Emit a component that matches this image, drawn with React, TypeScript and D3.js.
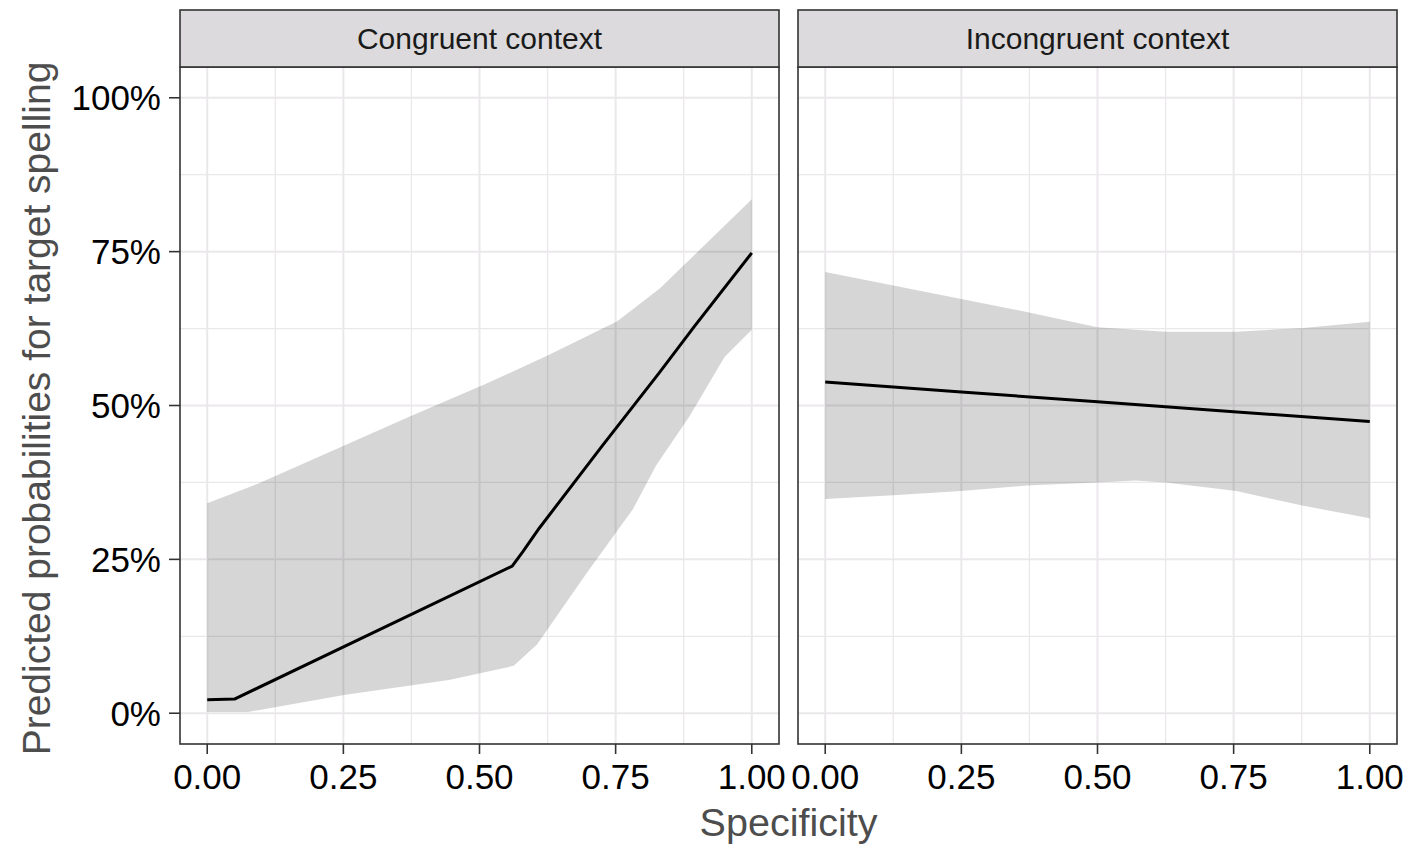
import React from "react";
import * as d3 from "d3";

const panels = ["Congruent context", "Incongruent context"];
const xTicks = [0, 0.25, 0.5, 0.75, 1.0];
const xMinor = [0.125, 0.375, 0.625, 0.875];
const yTicks = [0, 0.25, 0.5, 0.75, 1.0];
const yMinor = [0.125, 0.375, 0.625, 0.875];

// Congruent context
const congX = [0, 0.05, 0.56, 0.58, 0.61, 0.725, 0.83, 0.895, 1.0];
const congFit = [2.2, 2.3, 23.9, 26.3, 30.1, 43.4, 55.3, 62.9, 74.8];
const congUpperX = [0, 0.093, 0.374, 0.514, 0.627, 0.753, 0.831, 1.0];
const congUpper = [34.1, 37.3, 48.3, 53.6, 58.2, 63.7, 69.0, 83.5];
const congLowerX = [0, 0.075, 0.254, 0.444, 0.563, 0.606, 0.697, 0.782, 0.824, 0.886, 0.95, 1.0];
const congLower = [0.2, 0.2, 3.0, 5.4, 7.7, 11.2, 22.8, 33.2, 40.2, 48.3, 57.9, 62.3];

// Incongruent context
const incX = [0, 0.25, 0.5, 0.75, 1.0];
const incFit = [53.8, 52.2, 50.6, 49.0, 47.4];
const incUpperX = [0, 0.125, 0.25, 0.37, 0.5, 0.625, 0.755, 0.878, 1.0];
const incUpper = [71.7, 69.5, 67.3, 65.2, 62.7, 62.0, 62.0, 62.6, 63.6];
const incLowerX = [0, 0.125, 0.25, 0.37, 0.5, 0.57, 0.625, 0.755, 0.878, 1.0];
const incLower = [34.8, 35.4, 36.1, 37.0, 37.5, 37.8, 37.5, 36.1, 33.7, 31.7];

const series = [
  { fx: congX, fy: congFit, ux: congUpperX, uy: congUpper, lx: congLowerX, ly: congLower },
  { fx: incX, fy: incFit, ux: incUpperX, uy: incUpper, lx: incLowerX, ly: incLower },
];

const W = 1408;
const H = 845;
const panelLefts = [180, 798];
const panelWidth = 599;
const stripTop = 10;
const panelTop = 67;
const panelBottom = 744;
const font = "'Liberation Sans', Arial, sans-serif";
const gridColor = "#EBE8EB";
const borderColor = "#333333";

export default function App() {
  const y = d3.scaleLinear().domain([-0.05, 1.05]).range([panelBottom, panelTop]);
  const fmtX = d3.format(".2f");
  const fmtY = (v: number) => `${Math.round(v * 100)}%`;

  return (
    <svg
      width={W}
      height={H}
      style={{ position: "absolute", left: 0, top: 0, display: "block", background: "#fff" }}
      fontFamily={font}
    >
      <rect x={0} y={0} width={W} height={H} fill="#fff" />
      {panels.map((name, i) => {
        const left = panelLefts[i];
        const x = d3.scaleLinear().domain([-0.05, 1.05]).range([left, left + panelWidth]);
        const s = series[i];
        const fitPts: [number, number][] = s.fx.map((v, k) => [x(v), y(s.fy[k] / 100)]);
        const upPts: [number, number][] = s.ux.map((v, k) => [x(v), y(s.uy[k] / 100)]);
        const lowPts: [number, number][] = s.lx.map((v, k) => [x(v), y(s.ly[k] / 100)]);
        const ribbon = [...upPts, ...lowPts.slice().reverse()];
        const line = d3.line();
        const ribbonPath = line(ribbon) + "Z";
        return (
          <g key={name}>
            {xMinor.map((v) => (
              <line key={"xm" + v} x1={x(v)} x2={x(v)} y1={panelTop} y2={panelBottom} stroke={gridColor} strokeWidth={1.3} />
            ))}
            {yMinor.map((v) => (
              <line key={"ym" + v} x1={left} x2={left + panelWidth} y1={y(v)} y2={y(v)} stroke={gridColor} strokeWidth={1.3} />
            ))}
            {xTicks.map((v) => (
              <line key={"xM" + v} x1={x(v)} x2={x(v)} y1={panelTop} y2={panelBottom} stroke={gridColor} strokeWidth={2} />
            ))}
            {yTicks.map((v) => (
              <line key={"yM" + v} x1={left} x2={left + panelWidth} y1={y(v)} y2={y(v)} stroke={gridColor} strokeWidth={2} />
            ))}
            <path d={ribbonPath} fill="#000" fillOpacity={0.16} stroke="none" />
            <path d={line(fitPts) || ""} fill="none" stroke="#000" strokeWidth={3} strokeLinejoin="round" />
            <rect x={left} y={panelTop} width={panelWidth} height={panelBottom - panelTop} fill="none" stroke={borderColor} strokeWidth={1.6} />
            <rect x={left} y={stripTop} width={panelWidth} height={panelTop - stripTop} fill="#DCDADC" stroke={borderColor} strokeWidth={1.6} />
            <text x={left + panelWidth / 2} y={(stripTop + panelTop) / 2} dy="0.36em" textAnchor="middle" fontSize={30} fill="#1A1A1A">
              {name}
            </text>
            {xTicks.map((v) => (
              <g key={"xt" + v}>
                <line x1={x(v)} x2={x(v)} y1={panelBottom} y2={panelBottom + 10} stroke={borderColor} strokeWidth={1.6} />
                <text x={x(v)} y={789} textAnchor="middle" fontSize={35} fill="#000">
                  {fmtX(v)}
                </text>
              </g>
            ))}
          </g>
        );
      })}
      {yTicks.map((v) => (
        <g key={"yt" + v}>
          <line x1={169} x2={180} y1={y(v)} y2={y(v)} stroke={borderColor} strokeWidth={1.6} />
          <text x={161} y={y(v)} dy="0.36em" textAnchor="end" fontSize={35} fill="#000">
            {fmtY(v)}
          </text>
        </g>
      ))}
      <text
        transform={`translate(50, ${(panelTop + panelBottom) / 2 + 3}) rotate(-90)`}
        textAnchor="middle"
        fontSize={39}
        fill="#4D4D4D"
      >
        Predicted probabilities for target spelling
      </text>
      <text x={(panelLefts[0] + panelLefts[1] + panelWidth) / 2} y={836} textAnchor="middle" fontSize={39.5} fill="#4D4D4D">
        Specificity
      </text>
    </svg>
  );
}
